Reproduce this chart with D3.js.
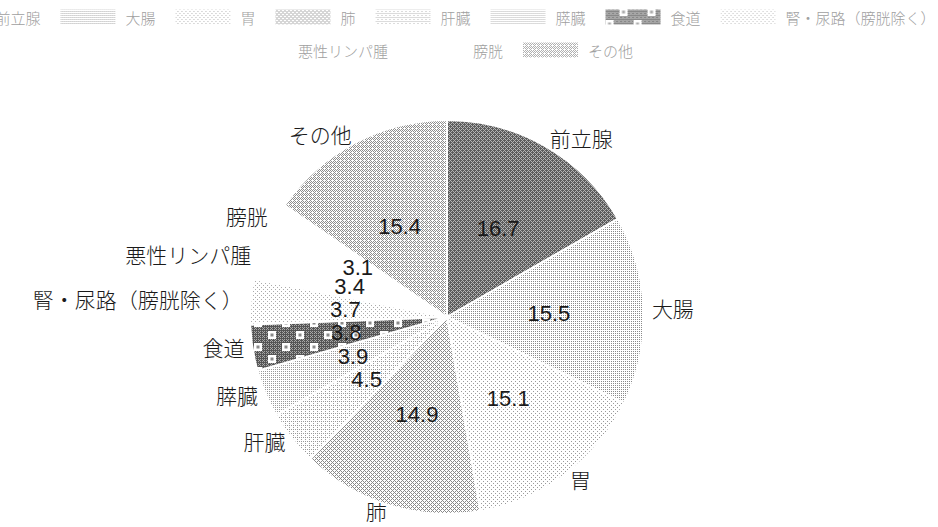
<!DOCTYPE html>
<html>
<head>
<meta charset="utf-8">
<script src="https://cdn.jsdelivr.net/npm/d3@7"></script>
<style>
  html, body { margin: 0; padding: 0; background: #fff; overflow: hidden; }
  svg { display: block; }
</style>
</head>
<body>
<svg id="chart" width="938" height="527"></svg>
<script>
// ---- data ----
const categories = ["前立腺", "大腸", "胃", "肺", "肝臓", "膵臓", "食道", "腎・尿路（膀胱除く）", "悪性リンパ腫", "膀胱", "その他"];
const values = [16.7, 15.5, 15.1, 14.9, 4.5, 3.9, 3.8, 3.7, 3.4, 3.1, 15.4];
const valueLabels = ["16.7", "15.5", "15.1", "14.9", "4.5", "3.9", "3.8", "3.7", "3.4", "3.1", "15.4"];

// ---- layout / style ----
const W = 938, H = 527;
const cx = 447, cy = 317, R = 197;
const labelR = 205, valueR = 102;
const jpFont = "'Noto Sans CJK JP', 'Noto Sans', sans-serif";
const numFont = "'Liberation Sans', Arial, sans-serif";

const svg = d3.select("#chart");
const defs = svg.append("defs");

const bayer = [[0, 8, 2, 10], [12, 4, 14, 6], [3, 11, 1, 9], [15, 7, 13, 5]];
function dither(id, level, fg, bg) {
  const p = defs.append("pattern").attr("id", id)
    .attr("patternUnits", "userSpaceOnUse").attr("width", 4).attr("height", 4);
  p.append("rect").attr("width", 4).attr("height", 4).attr("fill", bg);
  for (let y = 0; y < 4; y++) for (let x = 0; x < 4; x++) {
    if (bayer[y][x] < level) p.append("rect").attr("x", x).attr("y", y)
      .attr("width", 1).attr("height", 1).attr("fill", fg);
  }
  return `url(#${id})`;
}
function squares(id, ox, oy) {
  const p = defs.append("pattern").attr("id", id)
    .attr("patternUnits", "userSpaceOnUse").attr("width", 28).attr("height", 24)
    .attr("x", ox).attr("y", oy);
  p.append("rect").attr("width", 28).attr("height", 24).attr("fill", "url(#dkbase)");
  [[0, 0], [14, 12]].forEach(([x, y]) => {
    p.append("rect").attr("x", x).attr("y", y).attr("width", 8).attr("height", 8).attr("fill", "#fff");
    p.append("rect").attr("x", x + 2.5).attr("y", y + 2.5).attr("width", 3).attr("height", 3).attr("fill", "#8a8a8a");
  });
  return `url(#${id})`;
}
dither("dkbase", 5, "#a8a8a8", "#555");

const fills = [
  dither("p0", 6, "#b4b4b4", "#5c5c5c"),
  dither("p1", 4, "#8a8a8a", "#ffffff"),
  dither("p2", 2, "#9a9a9a", "#ffffff"),
  dither("p3", 6, "#8a8a8a", "#ffffff"),
  dither("p4", 3, "#9a9a9a", "#ffffff"),
  dither("p5", 4, "#999999", "#ffffff"),
  squares("p6", -193, 26),
  dither("p7", 2, "#aaaaaa", "#ffffff"),
  "#ffffff",
  "#ffffff",
  dither("p10", 7, "#8e8e8e", "#ffffff")
];
const legendFills = fills.map((f, i) => i === 6 ? squares("lp6", 0, 3) : f);

const data = categories.map((c, i) => ({ name: c, value: values[i], label: valueLabels[i], i }));

// ---- pie ----
const pie = d3.pie().sort(null).value(d => d.value).startAngle(0).endAngle(2 * Math.PI);
const arc = d3.arc().innerRadius(0).outerRadius(R);
const arcs = pie(data);

const g = svg.append("g").attr("transform", `translate(${cx},${cy})`);
g.selectAll("path.slice").data(arcs).join("path")
  .attr("class", "slice")
  .attr("d", arc)
  .attr("fill", d => fills[d.data.i])
  .attr("stroke", "#fff").attr("stroke-width", 2);

const mid = d => (d.startAngle + d.endAngle) / 2;

g.selectAll("text.val").data(arcs).join("text")
  .attr("class", "val")
  .attr("x", d => Math.sin(mid(d)) * valueR)
  .attr("y", d => -Math.cos(mid(d)) * valueR)
  .attr("text-anchor", "middle").attr("dominant-baseline", "central")
  .attr("font-family", numFont).attr("font-size", 22).attr("fill", "#1a1a1a")
  .text(d => d.data.label);

g.selectAll("text.cat").data(arcs).join("text")
  .attr("class", "cat")
  .attr("x", d => Math.sin(mid(d)) * labelR)
  .attr("y", d => -Math.cos(mid(d)) * labelR - 2)
  .attr("text-anchor", d => mid(d) < Math.PI ? "start" : "end")
  .attr("dominant-baseline", "central")
  .attr("font-family", jpFont).attr("font-weight", 300).attr("font-size", 21).attr("fill", "#1a1a1a")
  .text(d => d.data.name);

// ---- legend ----
const legend = svg.append("g").attr("class", "legend");
const swW = 55, swH = 15, gap1 = 10, gap2 = 20, maxRow = 1030;
const rowY = [17, 50];
const items = data.map(d => {
  const it = legend.append("g");
  it.append("rect").attr("width", swW).attr("height", swH).attr("y", -swH / 2)
    .attr("fill", legendFills[d.i]).attr("opacity", 0.7);
  const t = it.append("text").attr("x", swW + gap1).attr("dominant-baseline", "central")
    .attr("font-family", jpFont).attr("font-weight", 300).attr("font-size", 15).attr("fill", "#a0a0a0").text(d.name);
  const w = swW + gap1 + t.node().getComputedTextLength();
  return { it, w };
});
const rows = [[]];
let cur = 0;
items.forEach(o => {
  const add = (rows[rows.length - 1].length ? gap2 : 0) + o.w;
  if (cur + add > maxRow && rows[rows.length - 1].length) { rows.push([]); cur = 0; }
  rows[rows.length - 1].push(o);
  cur += (rows[rows.length - 1].length > 1 ? gap2 : 0) + o.w;
});
rows.forEach((row, ri) => {
  const total = d3.sum(row, o => o.w) + gap2 * (row.length - 1);
  let x = 433 - total / 2;
  row.forEach(o => {
    o.it.attr("transform", `translate(${x},${rowY[ri]})`);
    x += o.w + gap2;
  });
});
</script>
</body>
</html>
